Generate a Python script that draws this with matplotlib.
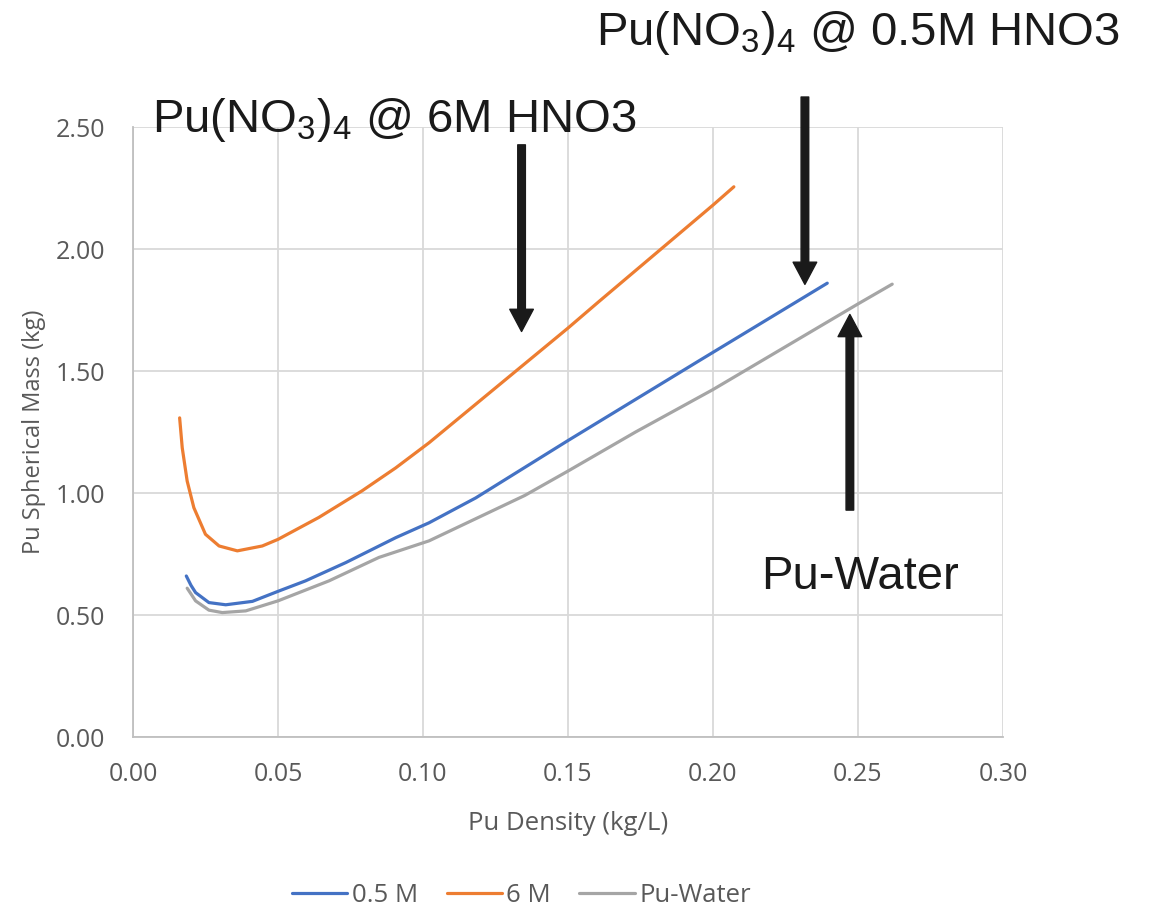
import matplotlib
matplotlib.use("Agg")
import matplotlib.pyplot as plt

# ---- data ----
x_05 = [0.0184, 0.0200, 0.0216, 0.0262, 0.0320, 0.0412, 0.0500, 0.0595, 0.0734, 0.0906, 0.1021,
        0.1182, 0.1500, 0.1952, 0.2394]
y_05 = [0.660, 0.622, 0.592, 0.551, 0.542, 0.556, 0.597, 0.640, 0.715, 0.817, 0.878,
        0.980, 1.215, 1.542, 1.860]

x_6 = [0.0161, 0.0170, 0.0187, 0.0210, 0.0250, 0.0297, 0.0360, 0.0446, 0.0500, 0.0641,
       0.0790, 0.0906, 0.1021, 0.1500, 0.1607, 0.2000, 0.2072]
y_6 = [1.308, 1.185, 1.049, 0.940, 0.831, 0.783, 0.763, 0.783, 0.810, 0.900,
       1.009, 1.103, 1.206, 1.676, 1.785, 2.180, 2.255]

x_w = [0.0187, 0.0216, 0.0262, 0.0308, 0.0389, 0.0500, 0.0676, 0.0848, 0.1021, 0.1351,
       0.1500, 0.1733, 0.2000, 0.2500, 0.2618]
y_w = [0.610, 0.558, 0.520, 0.510, 0.517, 0.558, 0.640, 0.736, 0.804, 0.990,
       1.090, 1.250, 1.424, 1.775, 1.856]

series_names = ["0.5 M", "6 M", "Pu-Water"]
series_colors = ["#4472C4", "#ED7D31", "#A5A5A5"]

x_ticks = [0.00, 0.05, 0.10, 0.15, 0.20, 0.25, 0.30]
y_ticks = [0.00, 0.50, 1.00, 1.50, 2.00, 2.50]

plt.rcParams['mathtext.default'] = 'regular'
plt.rcParams['font.family'] = ['Liberation Sans', 'DejaVu Sans']

fig = plt.figure(figsize=(11.53, 9.06), dpi=100)
ax = fig.add_axes([0.1153, 0.1865, 0.7546, 0.6733])

for xs, ys, name, c in zip([x_05, x_6, x_w], [y_05, y_6, y_w], series_names, series_colors):
    ax.plot(xs, ys, color=c, lw=2.3, label=name, solid_capstyle='round',
            solid_joinstyle='round', zorder=3)

ax.set_xlim(0, 0.30)
ax.set_ylim(0, 2.50)
ax.set_xticks(x_ticks)
ax.set_yticks(y_ticks)
ax.set_xticklabels([f"{v:.2f}" for v in x_ticks])
ax.set_yticklabels([f"{v:.2f}" for v in y_ticks])
ax.grid(True, color="#D9D9D9", lw=1.3, zorder=0)
ax.set_axisbelow(True)
for s in ["top", "right"]:
    ax.spines[s].set_visible(False)
ax.spines["left"].set_color("#BFBFBF")
ax.spines["bottom"].set_color("#BFBFBF")
ax.spines["left"].set_linewidth(1.3)
ax.spines["bottom"].set_linewidth(1.3)
ax.tick_params(length=0, labelsize=18, labelcolor="#595959")
ax.tick_params(axis='x', pad=18)
ax.tick_params(axis='y', pad=20)
for lab in ax.get_xticklabels() + ax.get_yticklabels():
    lab.set_family(['Open Sans', 'DejaVu Sans'])

ax.set_xlabel("Pu Density (kg/L)", fontsize=18.5, color="#595959", labelpad=17,
              family=['Open Sans', 'DejaVu Sans'])
ax.set_ylabel("Pu Spherical Mass (kg)", fontsize=17, color="#595959", labelpad=7,
              family=['Open Sans', 'DejaVu Sans'])

# annotations
ax.text(0.0066, 2.48, r"Pu(NO$_3$)$_4$ @ 6M HNO3", fontsize=34, color="#1A1A1A",
        va='baseline', ha='left', clip_on=False)
ax.text(0.1597, 2.836, r"Pu(NO$_3$)$_4$ @ 0.5M HNO3", fontsize=34, color="#1A1A1A",
        va='baseline', ha='left', clip_on=False)
ax.text(0.2166, 0.608, "Pu-Water", fontsize=34, color="#1A1A1A",
        va='baseline', ha='left', clip_on=False)

arrow_kw = dict(facecolor="#1A1A1A", edgecolor="#1A1A1A", width=5.5,
                headwidth=17, headlength=16, shrink=0)
ax.annotate("", xy=(0.134, 1.662), xytext=(0.134, 2.427), arrowprops=arrow_kw,
            annotation_clip=False)
ax.annotate("", xy=(0.2317, 1.855), xytext=(0.2317, 2.623), arrowprops=arrow_kw,
            annotation_clip=False)
ax.annotate("", xy=(0.2472, 1.732), xytext=(0.2472, 0.93), arrowprops=arrow_kw,
            annotation_clip=False)

leg = fig.legend(loc='center', bbox_to_anchor=(0.4523, 0.0115), ncol=3, frameon=False,
                 handlelength=2.15, handletextpad=0.18, columnspacing=1.1,
                 prop={'family': ['Open Sans', 'DejaVu Sans'], 'size': 18.5})
for t in leg.get_texts():
    t.set_color("#595959")

fig.savefig("out.png", dpi=100)
